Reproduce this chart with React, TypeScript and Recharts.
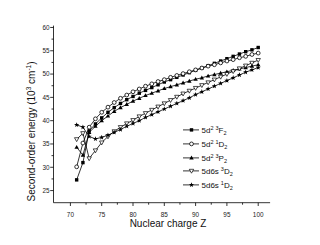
import React from 'react';
import { Legend, Line, LineChart, XAxis, YAxis } from 'recharts';

// nuclear charge Z
const charges = [71, 72, 73, 74, 75, 76, 77, 78, 79, 80, 81, 82, 83, 84, 85, 86, 87, 88, 89, 90, 91, 92, 93, 94, 95, 96, 97, 98, 99, 100];

// second-order energies, 10^3 cm^-1
const f2Triplet = [27.3, 31.0, 37.8, 39.3, 40.6, 41.8, 42.8, 43.7, 44.5, 45.2, 45.9, 46.5, 47.1, 47.7, 48.3, 48.8, 49.3, 49.8, 50.3, 50.8, 51.3, 51.8, 52.3, 52.8, 53.3, 53.8, 54.3, 54.8, 55.2, 55.7];
const d2Singlet = [30.1, 35.2, 38.6, 40.4, 41.8, 42.9, 43.9, 44.8, 45.5, 46.2, 46.8, 47.4, 47.9, 48.4, 48.8, 49.3, 49.7, 50.1, 50.5, 50.9, 51.3, 51.7, 52.0, 52.4, 52.8, 53.1, 53.5, 53.8, 54.2, 54.5];
const p2Triplet = [34.3, 32.6, 37.5, 38.8, 40.0, 41.0, 42.0, 42.8, 43.5, 44.2, 44.8, 45.4, 45.9, 46.4, 46.9, 47.3, 47.7, 48.1, 48.5, 48.9, 49.2, 49.6, 49.9, 50.2, 50.5, 50.8, 51.1, 51.4, 51.7, 52.0];
const d6sTriplet = [36.0, 37.3, 31.9, 33.6, 35.3, 36.6, 37.7, 38.6, 39.4, 40.1, 40.9, 41.6, 42.3, 43.0, 43.7, 44.4, 45.1, 45.8, 46.4, 47.0, 47.6, 48.2, 48.8, 49.4, 50.0, 50.6, 51.2, 51.8, 52.4, 53.0];
const d6sSinglet = [39.1, 38.6, 36.6, 36.1, 36.4, 36.9, 37.5, 38.1, 38.8, 39.4, 40.0, 40.7, 41.3, 41.9, 42.5, 43.1, 43.7, 44.3, 44.9, 45.6, 46.2, 46.8, 47.4, 48.0, 48.6, 49.2, 49.8, 50.4, 50.9, 51.4];

const xTicks = [70, 72.5, 75, 77.5, 80, 82.5, 85, 87.5, 90, 92.5, 95, 97.5, 100];
const yTicks = [25, 27.5, 30, 32.5, 35, 37.5, 40, 42.5, 45, 47.5, 50, 52.5, 55, 57.5, 60];

const FONT = '"Liberation Sans", Arial, sans-serif';

const data = charges.map((z, i) => ({
  z,
  f2t: f2Triplet[i],
  d2s: d2Singlet[i],
  p2t: p2Triplet[i],
  d6t: d6sTriplet[i],
  d6s: d6sSinglet[i],
}));

// marker shapes
const drawMarker = (shape: string, cx: number, cy: number, key?: string) => {
  switch (shape) {
    case 'square':
      return <rect key={key} x={cx - 1.7} y={cy - 1.7} width={3.4} height={3.4} fill="#000" />;
    case 'circle':
      return <circle key={key} cx={cx} cy={cy} r={1.9} fill="#fff" stroke="#000" strokeWidth={0.8} />;
    case 'up':
      return <polygon key={key} points={`${cx},${cy - 2.3} ${cx + 2.2},${cy + 1.6} ${cx - 2.2},${cy + 1.6}`} fill="#000" />;
    case 'down':
      return <polygon key={key} points={`${cx},${cy + 2.3} ${cx + 2.2},${cy - 1.6} ${cx - 2.2},${cy - 1.6}`} fill="#fff" stroke="#000" strokeWidth={0.7} />;
    default: {
      const pts = [];
      for (let k = 0; k < 10; k++) {
        const r = k % 2 === 0 ? 2.7 : 1.1;
        const a = -Math.PI / 2 + (k * Math.PI) / 5;
        pts.push(`${cx + r * Math.cos(a)},${cy + r * Math.sin(a)}`);
      }
      return <polygon key={key} points={pts.join(' ')} fill="#000" />;
    }
  }
};

const series = [
  { key: 'f2t', shape: 'square', base: '5d', sup1: '2', sup2: '3', term: 'F' },
  { key: 'd2s', shape: 'circle', base: '5d', sup1: '2', sup2: '1', term: 'D' },
  { key: 'p2t', shape: 'up', base: '5d', sup1: '2', sup2: '3', term: 'P' },
  { key: 'd6t', shape: 'down', base: '5d6s', sup1: '', sup2: '3', term: 'D' },
  { key: 'd6s', shape: 'star', base: '5d6s', sup1: '', sup2: '1', term: 'D' },
];

const XTick = (props: any) => {
  const { x, y, payload } = props;
  const major = payload.value % 5 === 0;
  return (
    <g>
      <line x1={x} x2={x} y1={y} y2={y + (major ? 3.3 : 2)} stroke="#000" strokeWidth={0.8} />
      {major && (
        <text x={x} y={y + 14.6} textAnchor="middle" fontSize={6.4} fontFamily={FONT} fill="#222">
          {payload.value}
        </text>
      )}
    </g>
  );
};

const YTick = (props: any) => {
  const { x, y, payload } = props;
  const major = payload.value % 5 === 0;
  return (
    <g>
      <line x1={x} x2={x - (major ? 3.3 : 2)} y1={y} y2={y} stroke="#000" strokeWidth={0.8} />
      {major && (
        <text x={x - 4} y={y + 2.4} textAnchor="end" fontSize={6.4} fontFamily={FONT} fill="#222">
          {payload.value}
        </text>
      )}
    </g>
  );
};

const LegendBox = () => (
  <div>
    {series.map((s) => (
      <svg key={s.key} width={100} height={13.75} style={{ display: 'block' }}>
        <line x1={1} x2={17} y1={6.9} y2={6.9} stroke="#000" strokeWidth={0.8} />
        {drawMarker(s.shape, 9.5, 6.9)}
        <text x={19.5} y={9.8} fontSize={8} fontFamily={FONT} fill="#111">
          {s.base}
          {s.sup1 && <tspan dy={-3.2} fontSize={5.5}>{s.sup1}</tspan>}
          <tspan dy={s.sup1 ? 0 : -3.2} dx={2} fontSize={5.5}>{s.sup2}</tspan>
          <tspan dy={3.2}>{s.term}</tspan>
          <tspan dy={2.4} fontSize={5.5}>2</tspan>
        </text>
      </svg>
    ))}
  </div>
);

export default function App() {
  return (
    <div style={{ position: 'absolute', left: 0, top: 0, width: 320, height: 245, background: '#fff' }}>
      <LineChart width={320} height={245} data={data} margin={{ top: 25.6, right: 49.9, bottom: 0, left: 0 }}>
        <XAxis
          dataKey="z"
          type="number"
          domain={[67.3, 101.9]}
          ticks={xTicks}
          interval={0}
          height={42.3}
          tickSize={0}
          tickMargin={0}
          tick={<XTick />}
          axisLine={{ stroke: '#000', strokeWidth: 0.8 }}
          allowDataOverflow
          label={{
            content: () => (
              <text x={168} y={226.5} textAnchor="middle" fontSize={10} fontFamily={FONT} fill="#111">
                Nuclear charge Z
              </text>
            ),
          }}
        />
        <YAxis
          type="number"
          domain={[22.4, 60.4]}
          ticks={yTicks}
          interval={0}
          width={53.5}
          tickSize={0}
          tickMargin={0}
          tick={<YTick />}
          axisLine={{ stroke: '#000', strokeWidth: 0.8 }}
          allowDataOverflow
          label={{
            content: () => (
              <text
                x={35}
                y={131.5}
                textAnchor="middle"
                fontSize={10}
                fontFamily={FONT}
                fill="#111"
                transform="rotate(-90, 35, 131.5)"
              >
                Second-order energy (10
                <tspan dy={-3.8} fontSize={6.5}>3</tspan>
                <tspan dy={3.8}> cm</tspan>
                <tspan dy={-3.8} fontSize={6.5}>-1</tspan>
                <tspan dy={3.8}>)</tspan>
              </text>
            ),
          }}
        />
        {series.map((s) => (
          <Line
            key={s.key}
            dataKey={s.key}
            type="linear"
            stroke="#000"
            strokeWidth={0.8}
            isAnimationActive={false}
            dot={(p: any) => drawMarker(s.shape, p.cx, p.cy, `${s.key}-${p.index}`)}
            activeDot={false}
          />
        ))}
        <Legend
          layout="vertical"
          align="center"
          verticalAlign="middle"
          content={() => <LegendBox />}
          wrapperStyle={{ position: 'absolute', left: 182, top: 123.1, width: 100 }}
        />
      </LineChart>
    </div>
  );
}
